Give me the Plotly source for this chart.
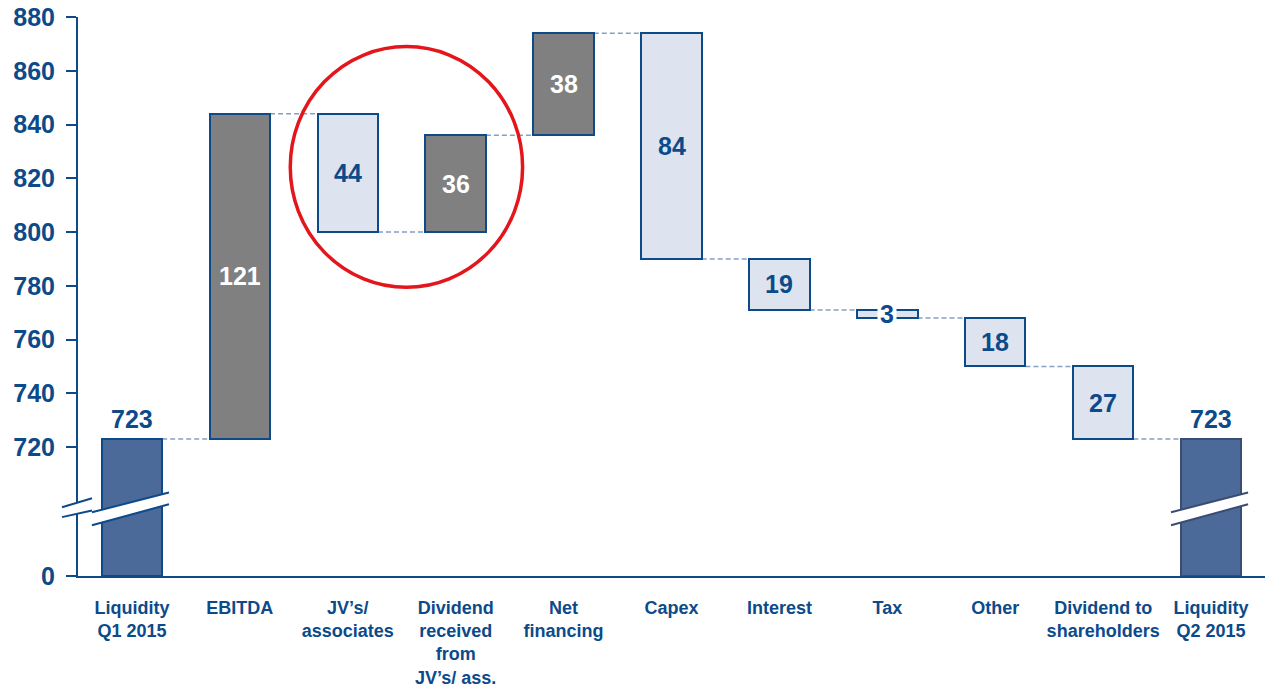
import plotly.graph_objects as go

# ---------------- data ----------------
categories = ["Liquidity<br>Q1 2015", "EBITDA", "JV’s/<br>associates",
              "Dividend<br>received<br>from<br>JV’s/ ass.", "Net<br>financing",
              "Capex", "Interest", "Tax", "Other",
              "Dividend to<br>shareholders", "Liquidity<br>Q2 2015"]
measures = ["total", "relative", "relative", "relative", "relative", "relative",
            "relative", "relative", "relative", "relative", "total"]
values = [723, 121, -44, 36, 38, -84, -19, -3, -18, -27, 723]
y_tick_values = [0, 720, 740, 760, 780, 800, 820, 840, 860, 880]

# ---------------- styling ----------------
NAVY = "#0C4A8A"
TOTAL_FILL = "#4B6A9A"
UP_FILL = "#808080"
DOWN_FILL = "#DDE4EF"
CONNECT = "#86A0C4"
RED = "#E3161C"
Q2_LINE = "#3A4C70"
FONT = "Liberation Sans"
AXIS_SHOWN_ZERO = 672          # axis position where the broken axis shows "0"
Y_TOP = 880
BAR_W = 0.56

x = list(range(len(categories)))

bases, heights, fills, lines, ends = [], [], [], [], []
level = 0
for i, (m, v) in enumerate(zip(measures, values)):
    if m == "total":
        bases.append(AXIS_SHOWN_ZERO)
        heights.append(v - AXIS_SHOWN_ZERO)
        fills.append(TOTAL_FILL)
        lines.append(NAVY if i == 0 else Q2_LINE)
        level = v
    else:
        bases.append(level)
        heights.append(v)
        fills.append(UP_FILL if v > 0 else DOWN_FILL)
        lines.append(NAVY)
        level = level + v
    ends.append(level)

fig = go.Figure()
fig.add_trace(go.Bar(
    x=x, y=heights, base=bases, width=BAR_W,
    marker=dict(color=fills, line=dict(color=lines, width=2)),
    hoverinfo="skip", showlegend=False,
))

shapes = []
# connectors
for i in range(len(x) - 1):
    shapes.append(dict(type="line", xref="x", yref="y",
                       x0=x[i] + BAR_W / 2, x1=x[i + 1] - BAR_W / 2,
                       y0=ends[i], y1=ends[i],
                       line=dict(color=CONNECT, width=1.5, dash="5px,3px"),
                       layer="below"))

# value labels
annotations = []
for i, (m, v) in enumerate(zip(measures, values)):
    if m == "total":
        annotations.append(dict(x=x[i], y=v, yanchor="bottom", text=f"<b>{v}</b>",
                                showarrow=False, yshift=4,
                                font=dict(family=FONT, size=25, color=NAVY)))
    else:
        mid = bases[i] + v / 2
        col = "white" if v > 0 else NAVY
        ann = dict(x=x[i], y=mid, text=f"<b>{abs(v)}</b>", showarrow=False,
                   font=dict(family=FONT, size=25, color=col))
        if abs(v) < 8:
            ann.update(bgcolor="white", borderpad=2)
        annotations.append(ann)

# axis break marks (on y-axis and across the two total bars)
def brk(cx, color, fill=True):
    out = []
    x0, x1 = cx - 0.371, cx + 0.343
    if fill:
        out.append(dict(type="path", xref="x", yref="y", layer="above",
                        path=f"M {x0},695.7 L {x1},703.1 L {x1},698.7 L {x0},690.9 Z",
                        fillcolor="white", line=dict(width=0)))
    out.append(dict(type="line", xref="x", yref="y", layer="above",
                    x0=x0, y0=695.7, x1=x1, y1=703.1, line=dict(color=color, width=2)))
    out.append(dict(type="line", xref="x", yref="y", layer="above",
                    x0=x0, y0=690.9, x1=x1, y1=698.7, line=dict(color=color, width=2)))
    return out

shapes += brk(x[0], NAVY)
shapes += brk(x[-1], Q2_LINE)
# break on the y axis itself
shapes.append(dict(type="path", xref="paper", yref="y", layer="above",
                   path="M -0.0135,697.6 L 0.0118,700.9 L 0.0118,696.4 L -0.0135,693.9 Z",
                   fillcolor="white", line=dict(width=0)))
shapes.append(dict(type="line", xref="paper", yref="y", layer="above",
                   x0=-0.0135, y0=697.6, x1=0.0118, y1=700.9,
                   line=dict(color=NAVY, width=2)))
shapes.append(dict(type="line", xref="paper", yref="y", layer="above",
                   x0=-0.0135, y0=693.9, x1=0.0118, y1=696.4,
                   line=dict(color=NAVY, width=2)))

# red highlight circle
shapes.append(dict(type="circle", xref="x", yref="y", layer="above",
                   x0=1.467, x1=3.62, y0=779.4, y1=869,
                   line=dict(color=RED, width=3.5)))

tickvals = [AXIS_SHOWN_ZERO] + y_tick_values[1:]
ticktext = [f"<b>{t}</b>" for t in y_tick_values]

fig.update_layout(
    width=1268, height=691,
    margin=dict(l=78, r=3, t=15, b=114),
    plot_bgcolor="white", paper_bgcolor="white",
    shapes=shapes, annotations=annotations,
    bargap=0,
    xaxis=dict(range=[-0.5, len(x) - 0.5], tickvals=x,
               ticktext=[f"<b>{c}</b>" for c in categories],
               tickfont=dict(family=FONT, size=18, color=NAVY),
               ticklabelstandoff=14,
               showline=True, linecolor=NAVY, linewidth=2, ticks="",
               showgrid=False, zeroline=False, fixedrange=True),
    yaxis=dict(range=[AXIS_SHOWN_ZERO, Y_TOP], tickvals=tickvals, ticktext=ticktext,
               tickfont=dict(family=FONT, size=25, color=NAVY),
               showline=True, linecolor=NAVY, linewidth=2,
               ticks="outside", ticklen=10, tickwidth=2, tickcolor=NAVY,
               ticklabelstandoff=6,
               showgrid=False, zeroline=False, fixedrange=True),
)

fig.write_html("out.html")
